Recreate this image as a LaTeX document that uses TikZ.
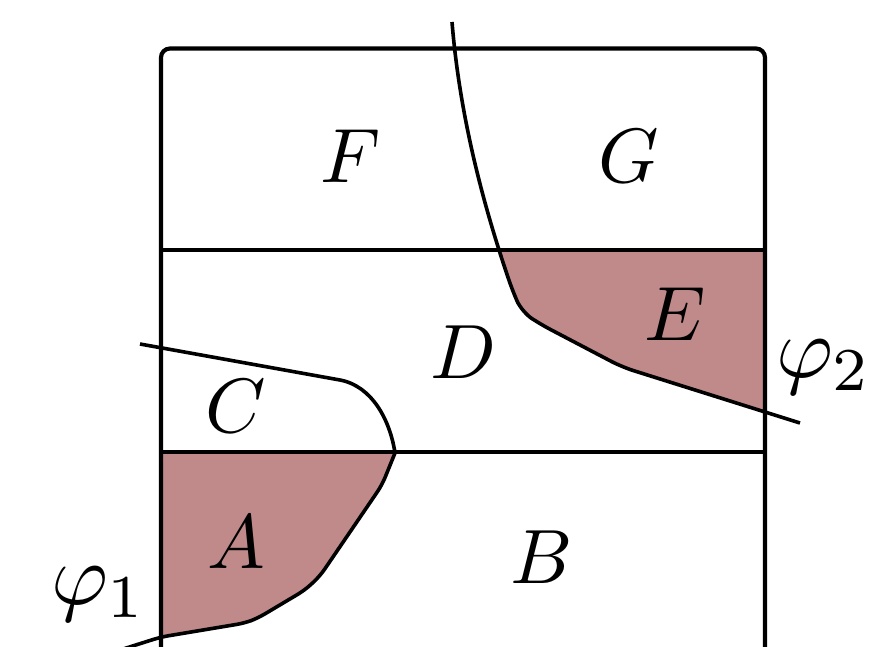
\documentclass[tikz,border=0pt]{standalone}
\usepackage{graphicx}
\definecolor{regionfill}{RGB}{192,138,138}
\newcommand{\biglab}[1]{\scalebox{7.7}{$#1$}}
\newcommand{\biggerlab}[1]{\scalebox{8.7}{$#1$}}
\begin{document}
\begin{tikzpicture}[x=1pt,y=-1pt,
  frame/.style={line width=4.2pt},
  curveline/.style={line width=3.6pt, line join=round},
  lab/.style={inner sep=0pt, anchor=base}]
\useasboundingbox (0,0) rectangle (889,646);
\clip (0,0) rectangle (889,646);
% fills
\begin{scope}
  \clip (161,250) rectangle (765,452);
  \fill[regionfill, rounded corners=12pt] (452,22) .. controls (460,120) and (485,210) .. (513,292) -- (522,312) -- (540,324) -- (622,367) -- (800,423) -- (900,423) -- (900,0) -- (452,0) -- cycle;
\end{scope}
\begin{scope}
  \clip (161,452) rectangle (765,700);
  \fill[regionfill] (140,344) -- (340,380) .. controls (372,386) and (390,420) .. (395,453)
    [rounded corners=8pt] -- (382,485) -- (320,576) -- (305,590) -- (258,618) -- (245,623) -- (161,637) -- (120,650) -- (0,650) -- (0,344) -- cycle;
\end{scope}
% frame
\draw[frame, rounded corners=9pt] (161,700) -- (161,48.5) -- (765,48.5) -- (765,700);
\coordinate (l1) at (161,250);
\coordinate (r1) at (765,250);
\coordinate (l2) at (161,452);
\coordinate (r2) at (765,452);
\draw[frame] (l1) -- (r1);
\draw[frame] (l2) -- (r2);
% curves
\draw[curveline, rounded corners=12pt] (452,22) .. controls (460,120) and (485,210) .. (513,292) -- (522,312) -- (540,324) -- (622,367) -- (800,423);
\draw[curveline] (140,344) -- (340,380) .. controls (372,386) and (390,420) .. (395,453)
    [rounded corners=8pt] -- (382,485) -- (320,576) -- (305,590) -- (258,618) -- (245,623) -- (161,637) -- (120,650);
% labels
\node[lab] (F) at (351,182) {\biglab{F}};
\node[lab] (G) at (629,182) {\biglab{G}};
\node[lab] (D) at (463,378) {\biglab{D}};
\node[lab] (E) at (675,340) {\biglab{E}};
\node[lab] (C) at (236,432) {\biglab{C}};
\node[lab] (A) at (236,568) {\biglab{A}};
\node[lab] (B) at (542,583) {\biglab{B}};
\node[lab] (p1) at (99,604) {\biggerlab{\varphi_1}};
\node[lab] (p2) at (824,377) {\biggerlab{\varphi_2}};
\end{tikzpicture}
\end{document}
